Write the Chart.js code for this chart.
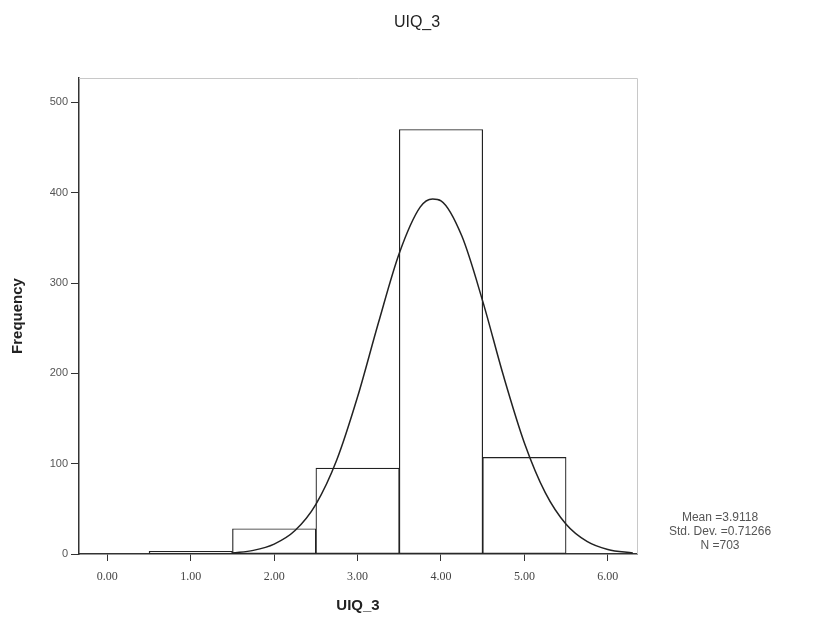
<!DOCTYPE html>
<html>
<head>
<meta charset="utf-8">
<script src="https://cdn.jsdelivr.net/npm/chart.js@4.4.1/dist/chart.umd.min.js"></script>
<style>
  html, body { margin: 0; padding: 0; background: #fff; }
  #wrap { width: 826px; height: 624px; position: relative; }
</style>
</head>
<body>
<div id="wrap"><canvas id="chart"></canvas></div>
<script>
// histogram bins (midpoints) and frequencies
const binCenters = [1, 2, 3, 4, 5];
const frequencies = [3, 28, 95, 470, 107];

// normal curve
const curveX = [1.5, 1.75, 2.0, 2.25, 2.5, 2.75, 3.0, 3.25, 3.5, 3.75, 3.9, 4.0, 4.25, 4.5, 4.75, 5.0, 5.25, 5.5, 5.75, 6.0, 6.3];
const curveY = [1, 4, 11, 26, 55, 104, 174, 256, 333, 384, 393, 391, 352, 280, 197, 123, 68, 33, 14, 5, 1];

const yTicks = [0, 100, 200, 300, 400, 500];
const chartTitle = "UIQ_3";
const statsLines = ["Mean =3.9118", "Std. Dev. =0.71266", "N =703"];

const ctx = document.getElementById("chart");

// light frame on top / right, title and stats text
const framePlugin = {
  id: "frame",
  afterDraw(chart) {
    const { ctx, chartArea } = chart;
    ctx.save();
    ctx.strokeStyle = "#c8c8c8";
    ctx.lineWidth = 1;
    ctx.beginPath();
    ctx.moveTo(chartArea.left, chartArea.top + 0.5);
    ctx.lineTo(chartArea.right + 0.5, chartArea.top + 0.5);
    ctx.lineTo(chartArea.right + 0.5, chartArea.bottom);
    ctx.stroke();

    ctx.fillStyle = "#222";
    ctx.font = "16px 'Liberation Sans', Arial, sans-serif";
    ctx.textAlign = "center";
    ctx.textBaseline = "middle";
    ctx.fillText(chartTitle, 417, 23);

    ctx.fillStyle = "#555";
    ctx.font = "12px 'Liberation Sans', Arial, sans-serif";
    statsLines.forEach((s, i) => {
      ctx.fillText(s, 720, 518 + i * 14);
    });
    ctx.restore();
  },
};

new Chart(ctx, {
  data: {
    datasets: [
      {
        type: "line",
        data: curveX.map((x, i) => ({ x: x, y: curveY[i] })),
        borderColor: "#222",
        borderWidth: 1.5,
        pointRadius: 0,
        cubicInterpolationMode: "monotone",
        fill: false,
        order: 0,
      },
      {
        type: "bar",
        data: binCenters.map((x, i) => ({ x: x, y: frequencies[i] })),
        backgroundColor: "#fff",
        borderColor: "#222",
        borderWidth: 1.2,
        borderSkipped: false,
        barPercentage: 1,
        categoryPercentage: 1,
        order: 1,
      },
    ],
  },
  options: {
    responsive: true,
    maintainAspectRatio: false,
    animation: false,
    layout: { padding: { left: 0, right: 189, top: 78, bottom: 0 } },
    plugins: {
      legend: { display: false },
      tooltip: { enabled: false },
      title: { display: false },
    },
    scales: {
      x: {
        type: "linear",
        min: -0.34,
        max: 6.35,
        offset: false,
        afterFit: (s) => { s.height = 70; },
        border: { display: true, color: "#333", width: 1.5 },
        grid: { offset: false, drawOnChartArea: false, drawTicks: true, tickLength: 7, color: "#333" },
        ticks: {
          stepSize: 1,
          includeBounds: false,
          padding: 9,
          color: "#444",
          font: { family: "'Liberation Serif', 'Times New Roman', serif", size: 12 },
          callback: (v) => Number(v).toFixed(2),
        },
        title: {
          display: true,
          text: "UIQ_3",
          color: "#222",
          font: { family: "'Liberation Sans', Arial, sans-serif", size: 15, weight: "bold" },
          padding: { top: 0, bottom: 9 },
        },
      },
      y: {
        min: 0,
        max: 527,
        afterFit: (s) => { s.width = 79; },
        afterBuildTicks: (s) => { s.ticks = yTicks.map((v) => ({ value: v })); },
        border: { display: true, color: "#333", width: 1.5 },
        grid: { drawOnChartArea: false, drawTicks: true, tickLength: 8, color: "#333" },
        ticks: {
          padding: 3,
          color: "#555",
          font: { family: "'Liberation Sans', Arial, sans-serif", size: 11 },
        },
        title: {
          display: true,
          text: "Frequency",
          color: "#222",
          font: { family: "'Liberation Sans', Arial, sans-serif", size: 15, weight: "bold" },
          padding: { top: 9, bottom: 0 },
        },
      },
    },
  },
  plugins: [framePlugin],
});
</script>
</body>
</html>
